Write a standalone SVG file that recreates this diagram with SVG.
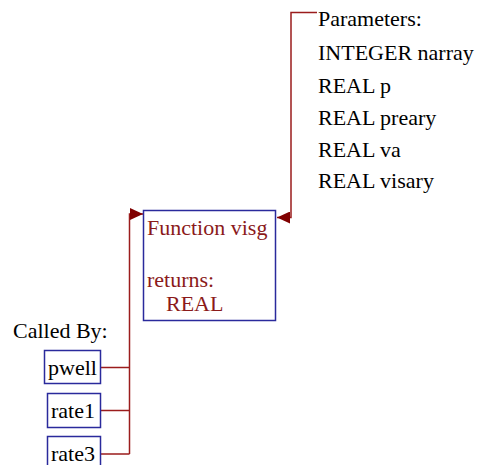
<svg xmlns="http://www.w3.org/2000/svg" width="479" height="465" viewBox="0 0 479 465">
<style>
text{font-family:'Liberation Serif','Times New Roman',serif;font-size:22px;fill:#000}
.fn{fill:#8b1a1a}
.box{fill:#fff;stroke:#2a2a9c;stroke-width:1.5}
.conn{fill:none;stroke:#9b1c1c;stroke-width:1.5}
</style>
<defs>
<marker id="arr" viewBox="0 0 13 12" refX="13" refY="6" markerWidth="13" markerHeight="12" markerUnits="userSpaceOnUse" orient="auto">
<path d="M0,0 L13,6 L0,12 Z" fill="#800000"/>
</marker>
</defs>
<rect width="479" height="465" fill="#fff"/>
<g id="connectors">
<path class="conn" d="M317,12.5 H291 V217.5 H277" marker-end="url(#arr)"/>
<path class="conn" d="M101,367.5 H129.5 M101,410.5 H129.5 M101,454 H129.5"/>
<path class="conn" d="M129.5,454 V214 H143" marker-end="url(#arr)"/>
</g>
<g id="params">
<text x="318" y="26">Parameters:</text>
<text x="318" y="60">INTEGER narray</text>
<text x="318" y="93">REAL p</text>
<text x="318" y="125">REAL preary</text>
<text x="318" y="157">REAL va</text>
<text x="318" y="188">REAL visary</text>
</g>
<g id="visg">
<rect class="box" x="143.5" y="210.5" width="132" height="110"/>
<text class="fn" x="147" y="235">Function visg</text>
<text class="fn" x="147" y="287">returns:</text>
<text class="fn" x="166" y="311">REAL</text>
</g>
<g id="calledby">
<text x="13" y="338">Called By:</text>
</g>
<g id="pwell">
<rect class="box" x="44.5" y="350.5" width="56" height="33"/>
<text x="48" y="375">pwell</text>
</g>
<g id="rate1">
<rect class="box" x="47.5" y="393.5" width="53" height="34"/>
<text x="51" y="418">rate1</text>
</g>
<g id="rate3">
<rect class="box" x="47.5" y="436.5" width="53" height="34"/>
<text x="51" y="461">rate3</text>
</g>
</svg>
